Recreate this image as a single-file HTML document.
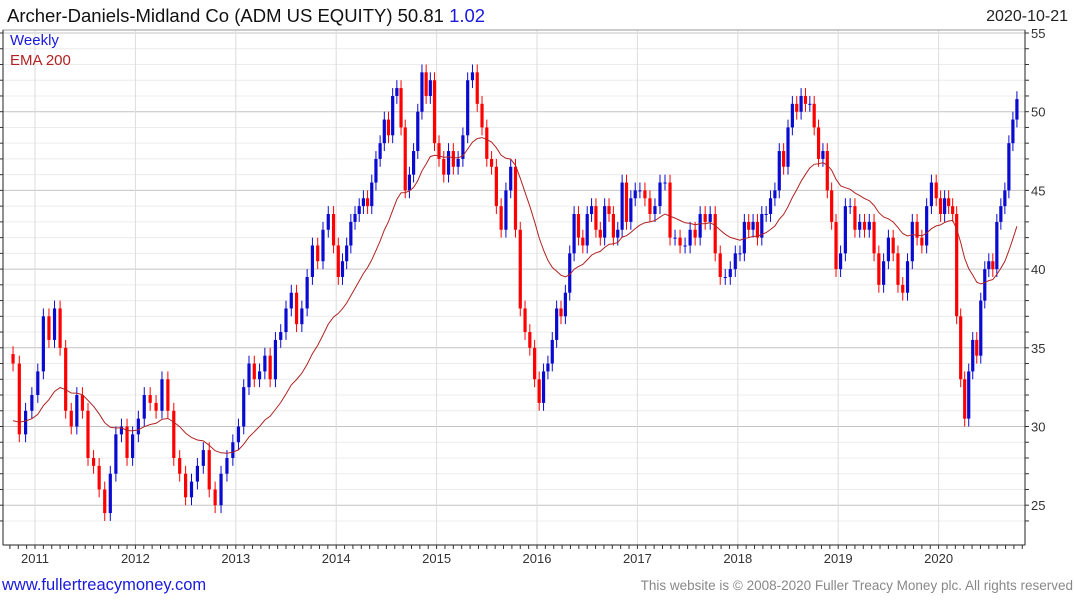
<!DOCTYPE html>
<html><head><meta charset="utf-8"><style>
body{margin:0;background:#fff;width:1075px;height:600px;overflow:hidden;font-family:"Liberation Sans",sans-serif}
svg{display:block}
</style></head><body>
<svg id="chart" width="1075" height="600" xmlns="http://www.w3.org/2000/svg">
<text x="7" y="22" font-size="18.5" fill="#111">Archer-Daniels-Midland Co (ADM US EQUITY) 50.81 <tspan fill="#1a1adf">1.02</tspan></text>
<text x="1068" y="21" font-size="16" fill="#222" text-anchor="end">2020-10-21</text>
<g id="grid"></g>
<g id="marks"></g>
<path id="ema" fill="none" stroke="#b22222" stroke-width="1"></path>
<rect x="3" y="30" width="1022" height="515" fill="none" stroke="#999"></rect>
<line x1="3" x2="1025" y1="545" y2="545" stroke="#222"></line>
<line x1="3" x2="3" y1="30" y2="545" stroke="#222"></line>
<line x1="1025" x2="1025" y1="30" y2="545" stroke="#222"></line>
<g id="axes"></g>
<text x="10" y="45" font-size="15" fill="#1a1adf">Weekly</text>
<text x="10" y="65" font-size="15" fill="#b22222">EMA 200</text>
<text x="2" y="590" font-size="16.5" fill="#1a1adf">www.fullertreacymoney.com</text>
<text x="1073" y="590" font-size="13.5" fill="#888" text-anchor="end">This website is © 2008-2020 Fuller Treacy Money plc. All rights reserved</text>
</svg>
<script>
const yearStarts = [2010.75,2011,2012,2013,2014,2015,2016,2017,2018,2019,2020];
const yearEnds = [2011,2012,2013,2014,2015,2016,2017,2018,2019,2020,2020.8];
const closesByYear = [
[34,29.5,31,32],
[33.5,37,35.5,37.5,35,31,30,32,31,28,27.5,26,24.5,27,29.5,30,28,29.5],
[30.5,32,31.5,31,33,31,28,27,25.5,26.5,27.5,28.5,26,25,27,28,29],
[30,32.5,34,33,33.5,34.5,33,35.5,36,37.5,38.5,36.5,37.5,39.5,41.5,40.5,42.5,43.5,41.5],
[39.5,40.5,41.5,43,43.5,44,44.5,44,45.5,47,48,49.5,48.5,51,51.5,49,45,46,47.5,50,52.5,51,52,48],
[47,46,47.5,46.5,47,48.5,52,52.5,50.5,49,47,46.5,44,42.5,45,46.5,42.5,37.5,36,35,33],
[31.5,33.5,34,35.5,37.5,37,38.5,41,43.5,42,41.5,43.5,44,42.5,42,44,43.5,42,42.5,45.5,43,44.5,45],
[45,44.5,43.5,44,45.5,45.5,42,42,41.5,41.5,42.5,42,43.5,43,43.5,41,39.5,39.5,40,41],
[41,43,42.5,43,42,43.5,43.5,44.5,45,47.5,46.5,49,50.5,50,51,50.5,50.5,49,47,47.5,45,43,40],
[41,44,44,42.5,43,42.5,43,41,39,40.5,42,41,39,38.5,40.5,43,42,41.5,44,45.5,44.5],
[43.5,44.5,44,43.5,37,33,30.5,33.5,35.5,34.5,38,40,40.5,40,43,44,45,48,49.5,50.8]
];
const emaSeed = 30;
const yTicks = [25,30,35,40,45,50,55];
const xTickYears = [2011,2012,2013,2014,2015,2016,2017,2018,2019,2020];

const NS="http://www.w3.org/2000/svg";
const X=t=>35+(t-2011)*100.4;
const Y=v=>33+(55-v)*15.74;
function mk(tag,attrs,parent){const e=document.createElementNS(NS,tag);for(const k in attrs)e.setAttribute(k,attrs[k]);parent.appendChild(e);return e;}
const grid=document.getElementById('grid'),axes=document.getElementById('axes'),marks=document.getElementById('marks');
for(let v=24;v<=55;v++){
  const y=Y(v);
  const l=mk('line',{x1:3,x2:1025,y1:y,y2:y,stroke:v%5===0?'#c4c4c4':'#ececec','stroke-width':1},grid);
  
  
  const t=mk('line',{x1:1025,x2:1029,y1:y,y2:y,stroke:'#333'},axes);
  
  
  const t2=mk('line',{x1:0,x2:3,y1:y,y2:y,stroke:'#333'},axes);
  
  
}
yTicks.forEach(v=>{
  const t=mk('text',{x:1031,y:Y(v)+5,'font-size':13,fill:'#333'},axes);
  t.textContent=v;
  
  
});
xTickYears.forEach(yr=>{
  const x=X(yr);
  const l=mk('line',{x1:x,x2:x,y1:30,y2:545,stroke:'#dcdcdc'},grid);
  
  
  const t=mk('text',{x:x,y:563,'font-size':13,fill:'#333','text-anchor':'middle'},axes);
  t.textContent=yr;
  
  
});
for(let m=2010.75;m<=2020.85;m+=1/12){
  const x=X(m);
  const t=mk('line',{x1:x,x2:x,y1:545,y2:549,stroke:'#333'},axes);
  
  
}
let prev=null,ema=emaSeed,pts=[];
closesByYear.forEach((arr,gi)=>{
  const s=yearStarts[gi],e=yearEnds[gi];
  arr.forEach((c,i)=>{
    const t=s+(i+0.5)/arr.length*(e-s);
    const x=X(t);
    const o=prev===null?c+0.6:prev;
    const up=c>=o;
    const col=up?'#0a0ad0':'#ff0000';
    const hi=Math.max(o,c)+0.5,lo=Math.min(o,c)-0.5;
    const w=mk('line',{x1:x,x2:x,y1:Y(hi),y2:Y(lo),stroke:col,'stroke-width':1},marks);
    
    
    const b=mk('rect',{x:x-1.6,y:Y(Math.max(o,c)),width:3.2,height:Math.max(1,Math.abs(Y(o)-Y(c))),fill:col},marks);
    
    
    ema=ema+0.09*(c-ema);
    pts.push([x,Y(ema)]);
    prev=c;
  });
});
document.getElementById('ema').setAttribute('d','M'+pts.map(p=>p[0].toFixed(1)+','+p[1].toFixed(1)).join(' L'));
</script>
</body></html>
